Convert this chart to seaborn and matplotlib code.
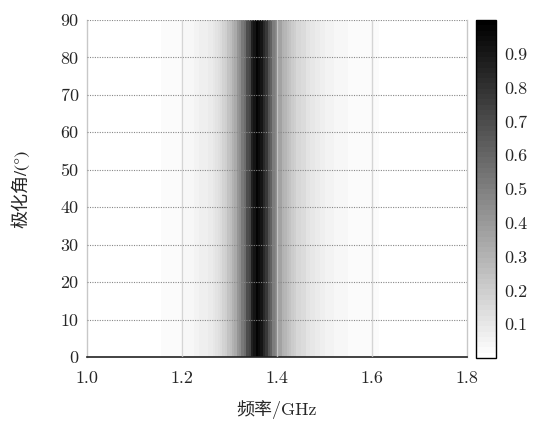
import numpy as np
import pandas as pd
import matplotlib
matplotlib.use("Agg")
import matplotlib.pyplot as plt
import seaborn as sns
from matplotlib.colors import ListedColormap

# ---- data ----
freq_start, freq_step = 1.0, 0.005          # GHz, cell edges 1.000 .. 1.800
absorb = [
    # 1.000 - 1.145
    0, 0, 0, 0, 0, 0, 0, 0, 0, 0,
    0, 0, 0, 0, 0, 0, 0, 0, 0, 0,
    0, 0, 0, 0, 0, 0, 0.004, 0.006, 0.008, 0.01,
    # 1.150 - 1.195
    0.015, 0.018, 0.016, 0.021, 0.019, 0.023, 0.02, 0.025, 0.023, 0.027,
    # 1.200 - 1.245
    0.03, 0.033, 0.036, 0.042, 0.044, 0.052, 0.055, 0.063, 0.066, 0.072,
    # 1.250 - 1.295
    0.075, 0.088, 0.092, 0.108, 0.118, 0.138, 0.15, 0.182, 0.195, 0.235,
    # 1.300 - 1.345
    0.26, 0.31, 0.34, 0.41, 0.44, 0.53, 0.57, 0.69, 0.73, 0.86,
    # 1.350 - 1.395
    0.91, 0.98, 0.95, 0.91, 0.83, 0.77, 0.67, 0.61, 0.51, 0.47,
    # 1.400 - 1.445
    0.39, 0.37, 0.31, 0.295, 0.25, 0.245, 0.205, 0.2, 0.168, 0.165,
    # 1.450 - 1.495
    0.145, 0.142, 0.12, 0.118, 0.1, 0.098, 0.085, 0.083, 0.073, 0.07,
    # 1.500 - 1.545
    0.062, 0.06, 0.053, 0.051, 0.045, 0.043, 0.039, 0.037, 0.033, 0.032,
    # 1.550 - 1.595
    0.03, 0.028, 0.027, 0.026, 0.025, 0.024, 0.023, 0.022, 0.021, 0.02,
    # 1.600 - 1.645
    0.018, 0.017, 0.016, 0.015, 0.014, 0.014, 0.013, 0.012, 0.012, 0.011,
    # 1.650 - 1.695
    0.01, 0.01, 0.009, 0.008, 0.004, 0.002, 0, 0, 0, 0,
    # 1.700 - 1.795
    0, 0, 0, 0, 0, 0, 0, 0, 0, 0,
    0, 0, 0, 0, 0, 0, 0, 0, 0, 0,
]
angles = list(range(0, 90))                  # polarization angle rows, 1 deg each
x_ticks = [1.0, 1.2, 1.4, 1.6, 1.8]
x_ticklabels = ["1.0", "1.2", "1.4", "1.6", "1.8"]
y_ticks = [0, 10, 20, 30, 40, 50, 60, 70, 80, 90]
cbar_ticks = [0.1, 0.2, 0.3, 0.4, 0.5, 0.6, 0.7, 0.8, 0.9]

n_f = len(absorb)
freqs = [round(freq_start + i * freq_step, 3) for i in range(n_f)]
df = pd.DataFrame([absorb for _ in angles], index=angles, columns=freqs)

# ---- style ----
sns.set_style("white")
plt.rcParams["font.family"] = ["cmr10", "Noto Sans CJK SC", "DejaVu Sans"]
plt.rcParams["axes.formatter.use_mathtext"] = True

fig = plt.figure(figsize=(5.37, 4.21), dpi=100)
ax = fig.add_axes([87 / 537, 1 - 357 / 421, 380 / 537, 337 / 421])
cax = fig.add_axes([476 / 537, 1 - 358 / 421, 20 / 537, 338 / 421])

base = plt.get_cmap("gray_r")
cmap = ListedColormap(base(np.linspace(0.0, 1.0, 64)))

sns.heatmap(df, ax=ax, cmap=cmap, vmin=0, vmax=1, cbar=True, cbar_ax=cax,
            xticklabels=False, yticklabels=False, rasterized=True)

ax.set_ylim(0, len(angles))
ax.set_xlim(0, n_f)

# ticks mapped to cell coordinates
xpos = [(v - freq_start) / freq_step for v in x_ticks]
ax.set_xticks(xpos)
ax.set_xticklabels(x_ticklabels, rotation=0)
ax.set_yticks(y_ticks)
ax.set_yticklabels([str(v) for v in y_ticks], rotation=0)
ax.tick_params(axis="both", labelsize=13, direction="in", length=3,
               color="#999999", width=0.6)
ax.tick_params(axis="x", pad=10)
ax.tick_params(axis="y", pad=6)

# grid
for yv in y_ticks[1:]:
    ax.axhline(yv, color="#888888", lw=0.8, ls=(0, (1, 1.2)), zorder=3)
for xv in xpos[1:-1]:
    ax.axvline(xv, color="#cccccc", lw=1.0, alpha=0.8, zorder=3)

for side in ["left", "right"]:
    ax.spines[side].set_visible(True)
    ax.spines[side].set_color("#c8c8c8")
    ax.spines[side].set_linewidth(1.0)
ax.spines["top"].set_visible(False)
ax.spines["bottom"].set_visible(True)
ax.spines["bottom"].set_color("#222222")
ax.spines["bottom"].set_linewidth(1.2)

ax.set_xlabel("频率/GHz", fontsize=13, labelpad=10)
ax.set_ylabel("极化角/(°)", fontsize=13, labelpad=22,
              family=["STIXGeneral", "Noto Sans CJK SC", "DejaVu Sans"])

# colorbar
cb = ax.collections[0].colorbar
cb.set_ticks(cbar_ticks)
cb.set_ticklabels([f"{v:.1f}" for v in cbar_ticks])
cax.tick_params(labelsize=13, direction="in", length=3, left=True, right=True,
                width=0.6, color="#333333", pad=6)
cb.outline.set_visible(True)
cb.outline.set_edgecolor("black")
cb.outline.set_linewidth(1.0)

fig.savefig("out.png", dpi=100)
